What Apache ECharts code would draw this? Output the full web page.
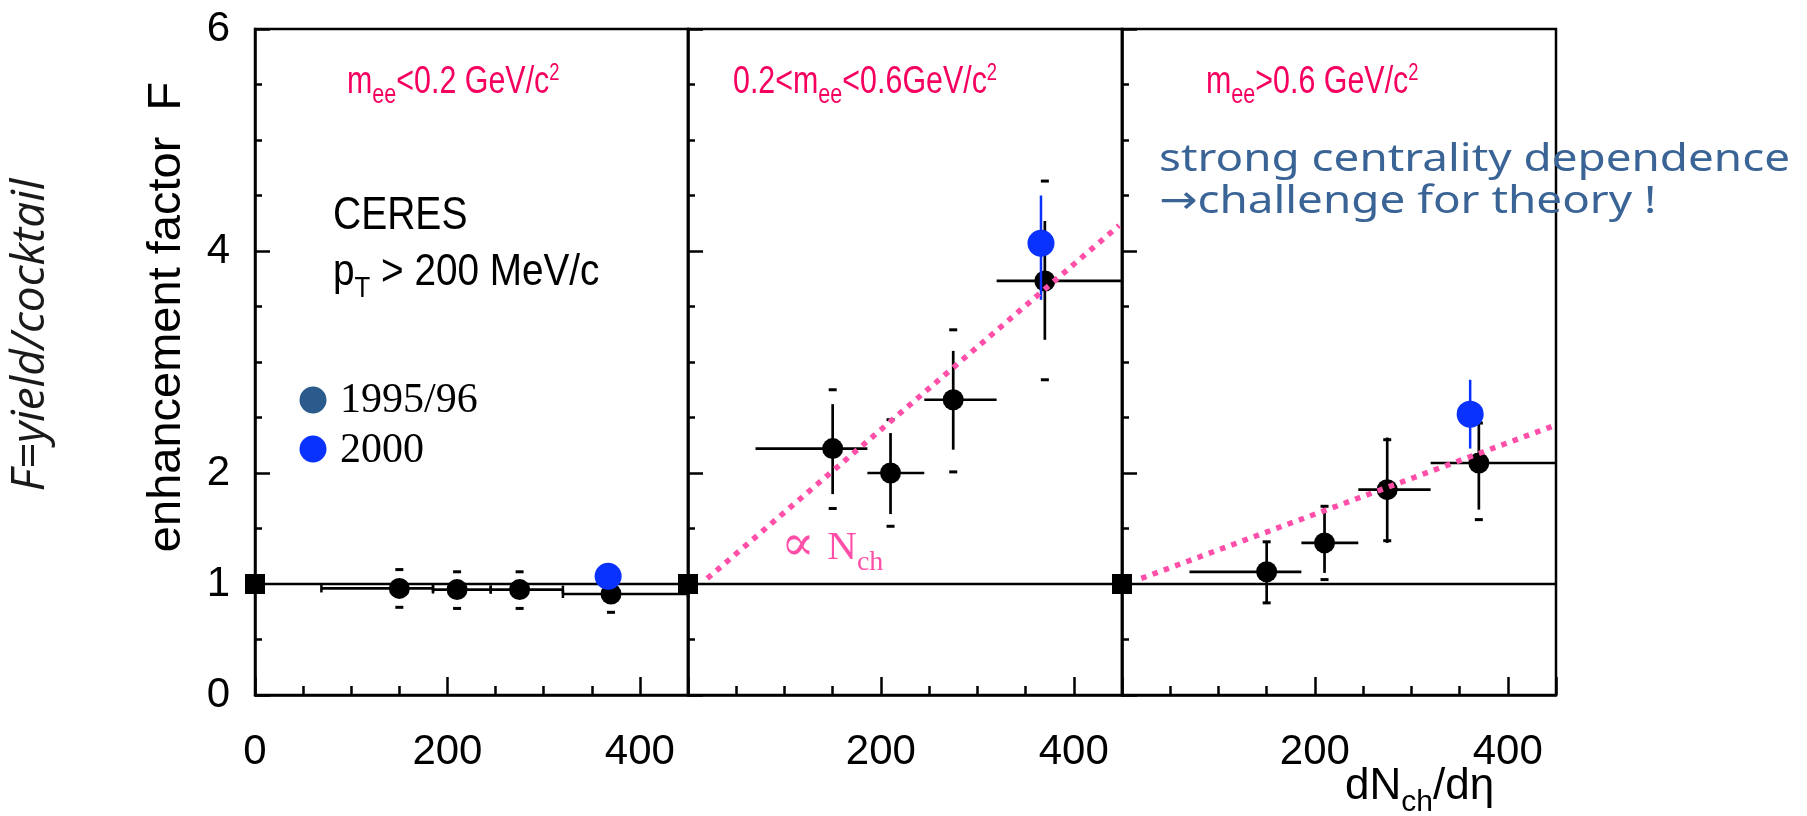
<!DOCTYPE html>
<html>
<head>
<meta charset="utf-8">
<script src="https://cdn.jsdelivr.net/npm/echarts@6/dist/echarts.min.js"></script>
<style>
html,body{margin:0;padding:0;background:#fff;}
#c{width:1807px;height:816px;}
</style>
</head>
<body>
<div id="c"></div>
<script>
// ---------------- DATA ----------------
// x-axis range of every panel (dN_ch/deta)
const xRange = [0, 450];
const yRange = [0, 6];
// tick labels shown
const xLabelsPanel1 = [0, 200, 400];
const xLabelsOther = [200, 400];
const yLabels = [0, 1, 2, 4, 6];

// 1995/96 points: [dNch/deta, F, xLow, xHigh, statLow, statHigh, sysLow, sysHigh]
const low1996 = [
  [150, 0.96, 69, 185, 0.96, 0.96, 0.79, 1.13],
  [210, 0.95, 185, 245, 0.95, 0.95, 0.78, 1.11],
  [275, 0.95, 245, 320, 0.95, 0.95, 0.78, 1.11],
  [370, 0.91, 320, 450, 0.91, 0.91, 0.745, 1.07]
];
const mid1996 = [
  [150, 2.22, 70, 186, 1.81, 2.62, 1.68, 2.75],
  [210, 2.00, 186, 245, 1.63, 2.36, 1.52, 2.48],
  [275, 2.66, 245, 320, 2.21, 3.10, 2.01, 3.29],
  [370, 3.73, 320, 450, 3.20, 4.27, 2.84, 4.63]
];
const high1996 = [
  [150, 1.11, 70, 186, 0.83, 1.38, 0.83, 1.38],
  [210, 1.37, 186, 245, 1.10, 1.70, 1.04, 1.70],
  [275, 1.85, 245, 320, 1.37, 2.32, 1.39, 2.30],
  [370, 2.09, 320, 450, 1.67, 2.45, 1.58, 2.45]
];
// 2000 points: [dNch/deta, F, errLow, errHigh]
const low2000 = [[367, 1.07, 1.07, 1.07]];
const mid2000 = [[366, 4.07, 3.56, 4.50]];
const high2000 = [[361, 2.53, 2.22, 2.84]];

// "proportional to N_ch" guide lines
const propMid = [[20, 1.05], [447, 4.23]];
const propHigh = [[20, 1.05], [449, 2.43]];
// reference F = 1
const unityLine = [[0, 1], [450, 1]];
const unityMarker = [[0, 1]];

// ---------------- LAYOUT / STYLE ----------------
const SANS = "'Liberation Sans', Arial, Helvetica, sans-serif";
const SERIF = "'Liberation Serif', 'DejaVu Serif', 'Times New Roman', serif";
const PINK = '#F5005F';
const DOT_PINK = '#FF4FA8';
const BLUE = '#0A32FF';
const LEGEND_DARK = '#2B5B8C';
const HAND = '#3A6496';

const gridLefts = [255, 688, 1122];
const gridWidths = [433, 434, 434];
const gridTop = 29, gridHeight = 666;

const panels = [
  {black: low1996, blue: low2000, prop: null, xl: xLabelsPanel1, yl: true, endCaps: true},
  {black: mid1996, blue: mid2000, prop: propMid, xl: xLabelsOther, yl: false, endCaps: false},
  {black: high1996, blue: high2000, prop: propHigh, xl: xLabelsOther, yl: false, endCaps: false}
];

const grids = [], xAxes = [], yAxes = [], series = [];

panels.forEach((p, i) => {
  grids.push({left: gridLefts[i], top: gridTop, width: gridWidths[i], height: gridHeight,
    show: true, borderColor: '#000', borderWidth: 2.5, backgroundColor: 'transparent'});
});
// primary axes (short ticks + labels)
panels.forEach((p, i) => {
  xAxes.push({type: 'value', gridIndex: i, position: 'bottom', min: xRange[0], max: xRange[1], interval: 50,
    axisLine: {show: true, lineStyle: {color: '#000', width: 2.5}},
    axisTick: {show: true, inside: true, length: 9, lineStyle: {color: '#000', width: 2.5}},
    splitLine: {show: false},
    axisLabel: {show: true, margin: 36, color: '#000', fontFamily: SANS, fontSize: 42,
      formatter: v => p.xl.indexOf(v) >= 0 ? String(v) : ''}});
  yAxes.push({type: 'value', gridIndex: i, position: 'left', min: yRange[0], max: yRange[1], interval: 0.5,
    axisLine: {show: true, lineStyle: {color: '#000', width: 2.5}},
    axisTick: {show: true, inside: true, length: 7, lineStyle: {color: '#000', width: 2.5}},
    splitLine: {show: false},
    axisLabel: {show: p.yl, margin: 25, color: '#000', fontFamily: SANS, fontSize: 42,
      formatter: v => yLabels.indexOf(v) >= 0 ? String(v) : ''}});
});
// secondary axes (long major ticks)
panels.forEach((p, i) => {
  xAxes.push({type: 'value', gridIndex: i, position: 'bottom', offset: 0, min: xRange[0], max: xRange[1], interval: 200,
    axisLine: {show: false}, splitLine: {show: false}, axisLabel: {show: false},
    axisTick: {show: true, inside: true, length: 18, lineStyle: {color: '#000', width: 2.5}}});
  yAxes.push({type: 'value', gridIndex: i, position: 'left', offset: 0, min: yRange[0], max: yRange[1], interval: 2,
    axisLine: {show: false}, splitLine: {show: false}, axisLabel: {show: false},
    axisTick: {show: true, inside: true, length: 15, lineStyle: {color: '#000', width: 2.5}}});
});

function seg(a, b, stroke, w) {
  return {type: 'line', shape: {x1: a[0], y1: a[1], x2: b[0], y2: b[1]}, style: {stroke: stroke, lineWidth: w}};
}
function makeBlackBars(endCaps) {
  return function (params, api) {
    const x = api.value(0), y = api.value(1);
    const A = api.coord([api.value(2), y]), B = api.coord([api.value(3), y]);
    const C = api.coord([x, api.value(4)]), D = api.coord([x, api.value(5)]);
    const E = api.coord([x, api.value(6)]), F = api.coord([x, api.value(7)]);
    const ch = [
      seg(A, B, '#000', 2.7),
      seg(C, D, '#000', 2.7),
      seg([E[0] - 4, E[1]], [E[0] + 4, E[1]], '#000', 3),
      seg([F[0] - 4, F[1]], [F[0] + 4, F[1]], '#000', 3)
    ];
    if (endCaps) {
      ch.push(seg([A[0], A[1] - 4], [A[0], A[1] + 4], '#000', 2.5));
      ch.push(seg([B[0], B[1] - 4], [B[0], B[1] + 4], '#000', 2.5));
    }
    return {type: 'group', children: ch};
  };
}
function blueBars(params, api) {
  const x = api.value(0);
  const C = api.coord([x, api.value(2)]), D = api.coord([x, api.value(3)]);
  return {type: 'group', children: [seg(C, D, BLUE, 2.5)]};
}

panels.forEach((p, i) => {
  const ax = {xAxisIndex: i, yAxisIndex: i};
  series.push(Object.assign({type: 'line', data: unityLine, symbol: 'none', silent: true, z: 2,
    lineStyle: {color: '#000', width: 2.7}}, ax));
  series.push(Object.assign({type: 'custom', name: '1995/96', data: p.black, renderItem: makeBlackBars(p.endCaps),
    silent: true, z: 3, encode: {x: 0, y: 1}}, ax));
  series.push(Object.assign({type: 'scatter', data: p.black.map(d => [d[0], d[1]]), symbol: 'circle', symbolSize: 21,
    itemStyle: {color: '#000', opacity: 1}, silent: true, z: 4}, ax));
  series.push(Object.assign({type: 'custom', name: '2000', data: p.blue, renderItem: blueBars, silent: true, z: 5,
    encode: {x: 0, y: 1}}, ax));
  series.push(Object.assign({type: 'scatter', data: p.blue.map(d => [d[0], d[1]]), symbol: 'circle', symbolSize: 27,
    itemStyle: {color: BLUE, opacity: 1}, silent: true, z: 6}, ax));
  if (p.prop) {
    series.push(Object.assign({type: 'line', data: p.prop, symbol: 'none', silent: true, z: 7,
      lineStyle: {color: DOT_PINK, width: 5.5, type: [5.5, 6.5], cap: 'butt'}}, ax));
  }
  series.push(Object.assign({type: 'scatter', data: unityMarker, symbol: 'rect', symbolSize: 20,
    itemStyle: {color: '#000', opacity: 1}, silent: true, z: 8}, ax));
});

// ---------------- ANNOTATIONS ----------------
const mctx = document.createElement('canvas').getContext('2d');
function tw(font, t) { mctx.font = font; return mctx.measureText(t).width; }
// parts: {t, size, dy, family, style, mid}
function richLine(x, base, parts, color, sx) {
  let cx = 0; const children = [];
  parts.forEach(pt => {
    const font = (pt.style || 'normal') + ' normal ' + pt.size + 'px ' + pt.family;
    const mid = pt.mid || 0.3465;
    children.push({type: 'text', x: cx, y: (pt.dy || 0) - mid * pt.size,
      style: {text: pt.t, font: font, fill: pt.color || color, textAlign: 'left', textVerticalAlign: 'middle',
        align: 'left', verticalAlign: 'middle'}});
    cx += tw(font, pt.t);
  });
  return {type: 'group', x: x, y: base, scaleX: sx || 1, scaleY: 1, children: children, silent: true};
}
function massLabel(x, pre, post) {
  const M = 38, S = 27, P = 23;
  return richLine(x, 96, [
    {t: pre, size: M, family: SANS},
    {t: 'ee', size: S, dy: 9, family: SANS},
    {t: post, size: M, family: SANS},
    {t: '2', size: P, dy: -14, family: SANS}
  ], PINK, 0.8);
}

const graphics = [];
graphics.push({type: 'text', x: 167, y: 317, rotation: Math.PI / 2, silent: true,
  style: {text: 'enhancement factor  F', font: 'normal normal 47px ' + SANS, fill: '#000',
    textAlign: 'center', textVerticalAlign: 'middle', align: 'center', verticalAlign: 'middle'}});
graphics.push({type: 'text', x: 31, y: 335, rotation: Math.PI / 2, silent: true,
  style: {text: 'F=yield/cocktail', font: "italic normal 46px 'Open Sans', 'Noto Sans', sans-serif", fill: '#1a1a1a',
    textAlign: 'center', textVerticalAlign: 'middle', align: 'center', verticalAlign: 'middle'}});

graphics.push(massLabel(347, 'm', '<0.2 GeV/c'));
graphics.push(massLabel(733, '0.2<m', '<0.6GeV/c'));
graphics.push(massLabel(1206, 'm', '>0.6 GeV/c'));

graphics.push(richLine(333, 232, [{t: 'CERES', size: 47, family: SANS}], '#000', 0.83));
graphics.push(richLine(333, 288, [
  {t: 'p', size: 45, family: SANS},
  {t: 'T', size: 30, dy: 11, family: SANS},
  {t: ' > 200 MeV/c', size: 45, family: SANS}
], '#000', 0.86));

// legend
graphics.push({type: 'circle', shape: {cx: 313, cy: 400, r: 13.5}, style: {fill: LEGEND_DARK}, silent: true});
graphics.push(richLine(340, 415, [{t: '1995/96', size: 42, family: SERIF, mid: 0.3375}], '#000', 1));
graphics.push({type: 'circle', shape: {cx: 313, cy: 449, r: 13.5}, style: {fill: BLUE}, silent: true});
graphics.push(richLine(340, 465, [{t: '2000', size: 42, family: SERIF, mid: 0.3375}], '#000', 1));

// proportional label
graphics.push(richLine(781, 562, [
  {t: '\u221D ', size: 50, family: SERIF, mid: 0.3375, dy: 2},
  {t: 'N', size: 41, family: SERIF, mid: 0.3375},
  {t: 'ch', size: 28, dy: 10, family: SERIF, mid: 0.3375}
], DOT_PINK, 1));

// x-axis title
graphics.push(richLine(1345, 802, [
  {t: 'dN', size: 44, family: SANS},
  {t: 'ch', size: 30, dy: 11, family: SANS},
  {t: '/d\u03B7', size: 44, family: SANS}
], '#000', 1));

// handwritten remark
const HANDFONT = "'Noto Sans', 'DejaVu Sans', sans-serif";
const line1 = 'strong centrality dependence';
const line2 = '\u2192challenge for theory !';
const handScale = 631 / tw('normal normal 39px ' + HANDFONT, line1);
graphics.push(richLine(1159, 175, [{t: line1, size: 39, family: HANDFONT, mid: 0.388}], HAND, handScale));
graphics.push(richLine(1159, 217, [{t: line2, size: 39, family: HANDFONT, mid: 0.388}], HAND, handScale));

const chart = echarts.init(document.getElementById('c'), null, {renderer: 'canvas'});
chart.setOption({
  animation: false,
  backgroundColor: '#fff',
  textStyle: {fontFamily: SANS},
  grid: grids,
  xAxis: xAxes,
  yAxis: yAxes,
  series: series,
  graphic: {elements: graphics}
});
</script>
</body>
</html>
